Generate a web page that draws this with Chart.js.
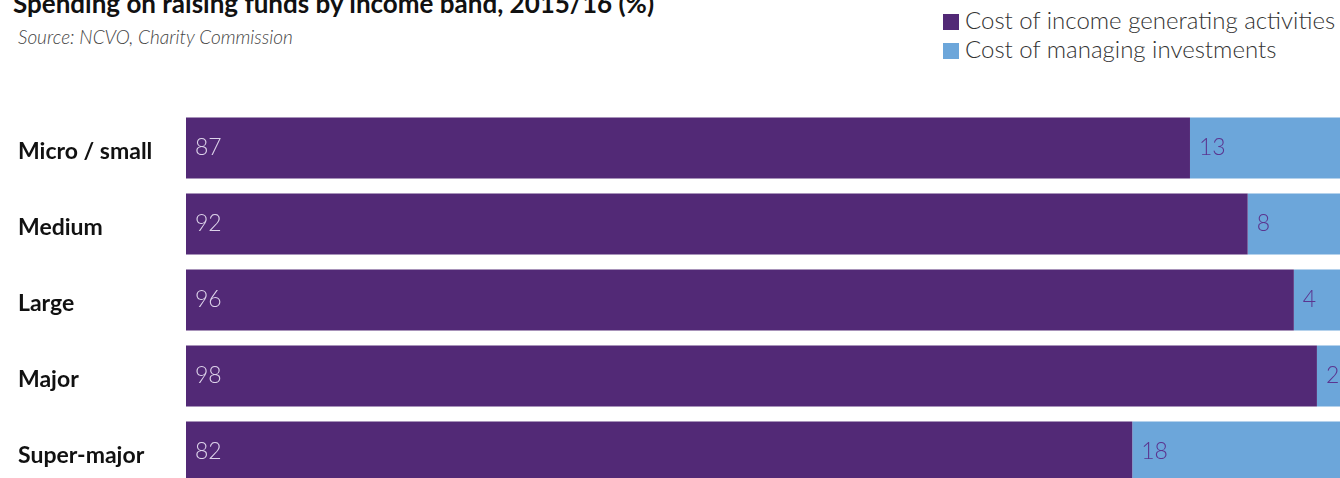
<!DOCTYPE html>
<html>
<head>
<meta charset="utf-8">
<title>Spending on raising funds by income band</title>
<script src="https://cdn.jsdelivr.net/npm/chart.js@4.4.1/dist/chart.umd.min.js"></script>
<style>
  html, body { margin: 0; padding: 0; width: 1340px; height: 478px; overflow: hidden; background: #fff; font-family: Lato, sans-serif; }
  .title { position: absolute; left: 13px; top: -13px; font-size: 26px; font-weight: 700; color: #111; white-space: nowrap; }
  .source { position: absolute; left: 18px; top: 25px; font-size: 19px; font-style: italic; font-weight: 300; color: #444; white-space: nowrap; }
  .legend { position: absolute; left: 943px; top: 5px; font-size: 24px; font-weight: 300; color: #333; line-height: 29px; }
  .legend div { white-space: nowrap; }
  .legend span { display: inline-block; width: 16px; height: 16px; margin-right: 6px; vertical-align: -1px; }
  .wrap { position: absolute; left: 0; top: 0; width: 1340px; height: 490px; }
</style>
</head>
<body>
<div class="title">Spending on raising funds by income band, 2015/16 (%)</div>
<div class="source">Source: NCVO, Charity Commission</div>
<div class="legend" id="legend"></div>
<div class="wrap"><canvas id="fundsChart"></canvas></div>
<script>
// income bands and % split of fundraising spend
const bands = ['Micro / small', 'Medium', 'Large', 'Major', 'Super-major'];
const incomeGenerating = [87, 92, 96, 98, 82];
const managingInvestments = [13, 8, 4, 2, 18];

const seriesNames = ['Cost of income generating activities', 'Cost of managing investments'];
const seriesColours = ['#522976', '#6ca6da'];
const labelColours = ['#ddd3ea', '#5b3590'];

// legend drawn in html, two rows top right
const legendEl = document.getElementById('legend');
seriesNames.forEach(function(name, i) {
    const row = document.createElement('div');
    row.innerHTML = '<span style="background:' + seriesColours[i] + '"></span>' + name;
    legendEl.appendChild(row);
});

// band names on the left, numbers just inside the start of each segment
const barText = {
    id: 'barText',
    afterDatasetsDraw(chart) {
        const ctx = chart.ctx;
        const yScale = chart.scales.y;
        ctx.save();
        ctx.textBaseline = 'middle';
        ctx.textAlign = 'left';

        ctx.font = 'bold 23px Lato';
        ctx.fillStyle = '#111';
        bands.forEach(function(band, j) {
            ctx.fillText(band, 18, yScale.getPixelForTick(j) + 4);
        });

        ctx.font = '300 23px Lato';
        chart.data.datasets.forEach(function(ds, i) {
            chart.getDatasetMeta(i).data.forEach(function(bar, j) {
                ctx.fillStyle = labelColours[i];
                ctx.fillText(ds.data[j], bar.base + 9, bar.y);
            });
        });
        ctx.restore();
    }
};

new Chart(document.getElementById('fundsChart'), {
    type: 'bar',
    data: {
        labels: bands,
        datasets: [
            { label: seriesNames[0], data: incomeGenerating, backgroundColor: seriesColours[0] },
            { label: seriesNames[1], data: managingInvestments, backgroundColor: seriesColours[1] }
        ]
    },
    options: {
        indexAxis: 'y',
        responsive: true,
        maintainAspectRatio: false,
        animation: false,
        layout: { padding: { top: 110, left: 186, right: 0, bottom: 0 } },
        datasets: { bar: { barPercentage: 1, categoryPercentage: 0.8 } },
        plugins: {
            legend: { display: false },
            tooltip: { enabled: false }
        },
        scales: {
            x: { stacked: true, min: 0, max: 100, display: false },
            y: { stacked: true, display: false }
        }
    },
    plugins: [barText]
});
</script>
</body>
</html>
